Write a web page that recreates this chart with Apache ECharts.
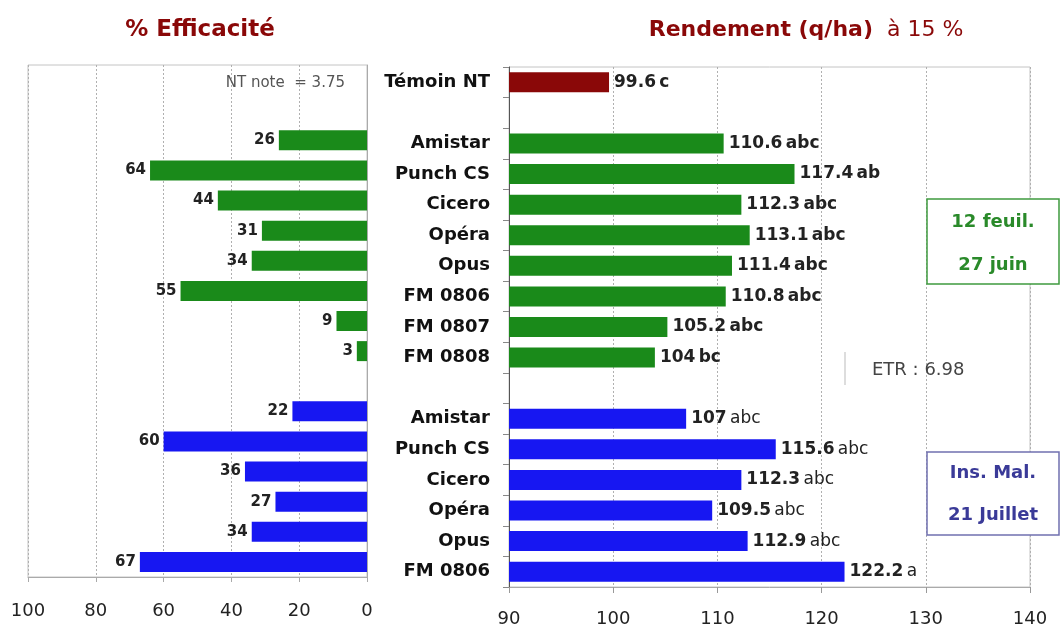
<!DOCTYPE html>
<html lang="fr">
<head>
<meta charset="UTF-8">
<title>Efficacité et rendement</title>
<script src="https://cdn.jsdelivr.net/npm/echarts@6/dist/echarts.min.js"></script>
<style>
  html, body { margin: 0; padding: 0; background: #fff; }
  #main { width: 1062px; height: 631px; }
</style>
</head>
<body>
<div id="main"></div>
<script>
// lignes du tableau (les '' sont des lignes vides)
var categories = ['Témoin NT', '', 'Amistar', 'Punch CS', 'Cicero', 'Opéra', 'Opus', 'FM 0806', 'FM 0807', 'FM 0808',
                  '', 'Amistar', 'Punch CS', 'Cicero', 'Opéra', 'Opus', 'FM 0806'];

// % efficacité
var effT1 = [26, 64, 44, 31, 34, 55, 9, 3];
var effT2 = [22, 60, 36, 27, 34, 67];

// rendement q/ha
var rdtTemoin = 99.6;
var rdtT1 = [110.6, 117.4, 112.3, 113.1, 111.4, 110.8, 105.2, 104];
var rdtT2 = [107, 115.6, 112.3, 109.5, 112.9, 122.2];
var grpTemoin = 'c';
var grpT1 = ['abc', 'ab', 'abc', 'abc', 'abc', 'abc', 'abc', 'bc'];
var grpT2 = ['abc', 'abc', 'abc', 'abc', 'abc', 'a'];

var effTicks = [0, 100, 20];
var rdtTicks = [90, 140, 10];

var FONT = 'DejaVu Sans';
var GREEN = '#1a8a1a', BLUE = '#1717f2', RED = '#8a0808';

// place les valeurs sur les lignes du tableau
function rows(vals, start) {
  var out = categories.map(function () { return null; });
  vals.forEach(function (v, i) { out[start + i] = v; });
  return out;
}

var chart = echarts.init(document.getElementById('main'));

function rdtLabel(letters, weight) {
  return {
    show: true, position: 'right', distance: 5,
    formatter: function (p) { return '{n|' + p.value + '} {l|' + letters[p.dataIndex] + '}'; },
    rich: {
      n: { fontFamily: FONT, fontSize: 17, fontWeight: 'bold', color: '#222' },
      l: { fontFamily: FONT, fontSize: 17, fontWeight: weight, color: '#222' }
    }
  };
}

var effLabel = {
  show: true, position: 'left', distance: 4,
  fontFamily: FONT, fontSize: 15, fontWeight: 'bold', color: '#222'
};

var option = {
  animation: false,
  backgroundColor: '#fff',
  grid: [
    { left: 28, top: 65, width: 339, height: 512, show: true, borderColor: '#c4c4c4', borderWidth: 1 },
    { left: 509, top: 67, width: 521, height: 520, show: true, borderColor: '#c4c4c4', borderWidth: 1 }
  ],
  xAxis: [
    {
      gridIndex: 0, type: 'value', inverse: true,
      min: effTicks[0], max: effTicks[1], interval: effTicks[2],
      axisLine: { show: true, lineStyle: { color: '#aaa' } },
      axisTick: { show: true, length: 5, lineStyle: { color: '#aaa' } },
      axisLabel: { margin: 25, fontFamily: FONT, fontSize: 18, color: '#222' },
      splitLine: { show: true, lineStyle: { type: [2, 2], color: '#b0b0b0' } }
    },
    {
      gridIndex: 1, type: 'value',
      min: rdtTicks[0], max: rdtTicks[1], interval: rdtTicks[2],
      axisLine: { show: true, lineStyle: { color: '#aaa' } },
      axisTick: { show: true, length: 6, lineStyle: { color: '#999' } },
      axisLabel: { margin: 23, fontFamily: FONT, fontSize: 18, color: '#222' },
      splitLine: { show: true, lineStyle: { type: [2, 2], color: '#b0b0b0' } }
    }
  ],
  yAxis: [
    {
      gridIndex: 0, type: 'category', data: categories, inverse: true, position: 'right',
      axisLine: { show: true, lineStyle: { color: '#aaa' } },
      axisTick: { show: false }, axisLabel: { show: false }, splitLine: { show: false }
    },
    {
      gridIndex: 1, type: 'category', data: categories, inverse: true,
      axisLine: { show: true, lineStyle: { color: '#555' } },
      axisTick: { show: true, length: 6, interval: 0, lineStyle: { color: '#888' } },
      axisLabel: { margin: 19, interval: 0, fontFamily: FONT, fontSize: 18, fontWeight: 'bold', color: '#111' },
      splitLine: { show: false }
    }
  ],
  series: [
    { type: 'bar', xAxisIndex: 0, yAxisIndex: 0, barWidth: 20, barGap: '-100%',
      data: rows(effT1, 2), itemStyle: { color: GREEN }, label: effLabel },
    { type: 'bar', xAxisIndex: 0, yAxisIndex: 0, barWidth: 20, barGap: '-100%',
      data: rows(effT2, 11), itemStyle: { color: BLUE }, label: effLabel },
    { type: 'bar', xAxisIndex: 1, yAxisIndex: 1, barWidth: 20, barGap: '-100%',
      data: rows([rdtTemoin], 0), itemStyle: { color: RED }, label: rdtLabel([grpTemoin], 'bold') },
    { type: 'bar', xAxisIndex: 1, yAxisIndex: 1, barWidth: 20, barGap: '-100%',
      data: rows(rdtT1, 2), itemStyle: { color: GREEN },
      label: rdtLabel(rows(grpT1, 2), 'bold') },
    { type: 'bar', xAxisIndex: 1, yAxisIndex: 1, barWidth: 20, barGap: '-100%',
      data: rows(rdtT2, 11), itemStyle: { color: BLUE },
      label: rdtLabel(rows(grpT2, 11), 'normal') }
  ],
  graphic: [
    { type: 'text', x: 200, y: 30, z: 10,
      style: { text: '% Efficacité', fill: RED, font: 'bold 23px "DejaVu Sans"', align: 'center', verticalAlign: 'middle' } },
    { type: 'text', x: 806, y: 30, z: 10,
      style: { text: '{a|Rendement (q/ha)}{b|  à 15 %}', align: 'center', verticalAlign: 'middle',
        rich: {
          a: { fontFamily: FONT, fontSize: 22, fontWeight: 'bold', fill: RED, color: RED },
          b: { fontFamily: FONT, fontSize: 22, fontWeight: 'normal', fill: RED, color: RED }
        } } },
    { type: 'text', x: 345, y: 83, z: 10,
      style: { text: 'NT note  = 3.75', fill: '#555', font: '15px "DejaVu Sans"', align: 'right', verticalAlign: 'middle' } },
    { type: 'line', z: 10, shape: { x1: 845, y1: 352, x2: 845, y2: 385 }, style: { stroke: '#bbb', lineWidth: 1 } },
    { type: 'text', x: 872, y: 370, z: 10,
      style: { text: 'ETR : 6.98', fill: '#444', font: '18px "DejaVu Sans"', align: 'left', verticalAlign: 'middle' } },
    { type: 'rect', z: 10, shape: { x: 927, y: 199, width: 132, height: 85 },
      style: { fill: '#fff', stroke: '#3f9a3f', lineWidth: 1.5 } },
    { type: 'text', x: 993, y: 222, z: 11,
      style: { text: '12 feuil.', fill: '#2a8a2a', font: 'bold 18px "DejaVu Sans"', align: 'center', verticalAlign: 'middle' } },
    { type: 'text', x: 993, y: 265, z: 11,
      style: { text: '27 juin', fill: '#2a8a2a', font: 'bold 18px "DejaVu Sans"', align: 'center', verticalAlign: 'middle' } },
    { type: 'rect', z: 10, shape: { x: 927, y: 452, width: 132, height: 83 },
      style: { fill: '#fff', stroke: '#7070b0', lineWidth: 1.5 } },
    { type: 'text', x: 993, y: 473, z: 11,
      style: { text: 'Ins. Mal.', fill: '#3a3a98', font: 'bold 18px "DejaVu Sans"', align: 'center', verticalAlign: 'middle' } },
    { type: 'text', x: 993, y: 515, z: 11,
      style: { text: '21 Juillet', fill: '#3a3a98', font: 'bold 18px "DejaVu Sans"', align: 'center', verticalAlign: 'middle' } }
  ]
};

chart.setOption(option);
</script>
</body>
</html>
